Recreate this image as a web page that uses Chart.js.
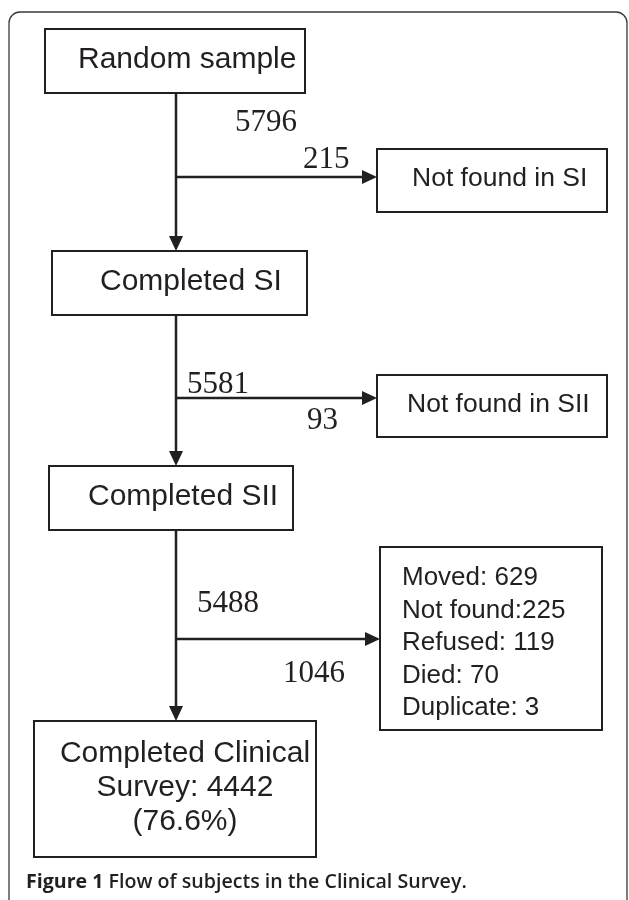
<!DOCTYPE html>
<html>
<head>
<meta charset="utf-8">
<title>Flow of subjects in the Clinical Survey</title>
<script src="https://cdn.jsdelivr.net/npm/chart.js@4.4.1/dist/chart.umd.min.js"></script>
<style>
  html, body { margin: 0; padding: 0; background: #fff; }
  .chart { width: 629px; height: 900px; position: relative; }
</style>
</head>
<body>
<div class="chart">
  <canvas id="flowChart"></canvas>
</div>
<script>
// flow data
const stageLabels = ["Random sample", "Completed SI", "Completed SII", "Completed Clinical"];
const remaining = [5796, 5581, 5488];
const excluded = [215, 93, 1046];
const exclusionLabels = ["Not found in SI", "Not found in SII"];
const lossReasons = ["Moved: ", "Not found:", "Refused: ", "Died: ", "Duplicate: "];
const lossCounts = [629, 225, 119, 70, 3];
const finalCount = 4442;
const finalPct = "76.6%";
const caption = ["Figure 1", " Flow of subjects in the Clinical Survey."];

// layout (in axis units, 1 unit = 1px here)
const stageBoxes = [
  { x0: 45, y0: 29, x1: 305, y1: 93, tx: 78, ty: 68 },
  { x0: 52, y0: 251, x1: 307, y1: 315, tx: 100, ty: 290 },
  { x0: 49, y0: 466, x1: 293, y1: 530, tx: 88, ty: 505 },
  { x0: 34, y0: 721, x1: 316, y1: 857, tx: 185, ty: 762 }
];
const sideBoxes = [
  { x0: 377, y0: 149, x1: 607, y1: 212, tx: 412, ty: 186 },
  { x0: 377, y0: 375, x1: 607, y1: 437, tx: 407, ty: 412 },
  { x0: 380, y0: 547, x1: 602, y1: 730, tx: 402, ty: 585 }
];
const spineX = 176;
const branchY = [177, 398, 639];
const remainingPos = [[235, 131], [187, 393], [197, 612]];
const excludedPos = [[303, 168], [307, 429], [283, 682]];

const INK = "#231f20";
const SANS = "'Liberation Sans', Arial, Helvetica, sans-serif";
const SERIF = "'Liberation Serif', 'Times New Roman', serif";

const flowPlugin = {
  id: "flow",
  afterDraw(chart) {
    const ctx = chart.ctx;
    const px = v => chart.scales.x.getPixelForValue(v);
    const py = v => chart.scales.y.getPixelForValue(v);
    ctx.save();

    // outer frame
    ctx.strokeStyle = "#3a3a3a";
    ctx.lineWidth = 1.3;
    ctx.beginPath();
    ctx.roundRect(px(9), py(12), px(627) - px(9), py(910) - py(12), 11);
    ctx.stroke();

    const box = b => {
      ctx.strokeStyle = INK;
      ctx.lineWidth = 2;
      ctx.strokeRect(px(b.x0), py(b.y0), px(b.x1) - px(b.x0), py(b.y1) - py(b.y0));
    };
    const arrow = (x0, y0, x1, y1) => {
      ctx.strokeStyle = INK;
      ctx.fillStyle = INK;
      ctx.lineWidth = 2.5;
      const ang = Math.atan2(py(y1) - py(y0), px(x1) - px(x0));
      const hl = 15, hw = 7;
      const bx = px(x1) - hl * Math.cos(ang), by = py(y1) - hl * Math.sin(ang);
      ctx.beginPath();
      ctx.moveTo(px(x0), py(y0));
      ctx.lineTo(bx, by);
      ctx.stroke();
      ctx.beginPath();
      ctx.moveTo(px(x1), py(y1));
      ctx.lineTo(bx + hw * Math.sin(ang), by - hw * Math.cos(ang));
      ctx.lineTo(bx - hw * Math.sin(ang), by + hw * Math.cos(ang));
      ctx.closePath();
      ctx.fill();
    };

    // boxes
    stageBoxes.forEach(box);
    sideBoxes.forEach(box);

    // spine arrows between stages
    for (let i = 0; i < stageBoxes.length - 1; i++) {
      arrow(spineX, stageBoxes[i].y1, spineX, stageBoxes[i + 1].y0);
    }
    // branch arrows to exclusions
    branchY.forEach((yv, i) => arrow(spineX, yv, sideBoxes[i].x0, yv));

    // stage labels
    ctx.fillStyle = INK;
    ctx.textBaseline = "alphabetic";
    ctx.font = "30px " + SANS;
    ctx.textAlign = "left";
    for (let i = 0; i < 3; i++) {
      ctx.fillText(stageLabels[i], px(stageBoxes[i].tx), py(stageBoxes[i].ty));
    }
    const fb = stageBoxes[3];
    ctx.textAlign = "center";
    const finalLines = [stageLabels[3], "Survey: " + finalCount, "(" + finalPct + ")"];
    finalLines.forEach((t, i) => ctx.fillText(t, px(fb.tx), py(fb.ty + i * 34)));

    // exclusion labels
    ctx.textAlign = "left";
    ctx.font = "26.5px " + SANS;
    exclusionLabels.forEach((t, i) => ctx.fillText(t, px(sideBoxes[i].tx), py(sideBoxes[i].ty)));
    ctx.font = "26px " + SANS;
    const lb = sideBoxes[2];
    lossReasons.forEach((r, i) => ctx.fillText(r + lossCounts[i], px(lb.tx), py(lb.ty + i * 32.5)));

    // counts
    ctx.font = "31px " + SERIF;
    remaining.forEach((v, i) => ctx.fillText(String(v), px(remainingPos[i][0]), py(remainingPos[i][1])));
    excluded.forEach((v, i) => ctx.fillText(String(v), px(excludedPos[i][0]), py(excludedPos[i][1])));

    // caption, fitted to its width in the figure
    const capFont = (w, s) => w + " " + s + "px 'Open Sans', 'Liberation Sans', sans-serif";
    ctx.font = capFont(700, 100);
    let w = ctx.measureText(caption[0]).width;
    ctx.font = capFont(600, 100);
    w += ctx.measureText(caption[1]).width;
    const size = 100 * 441 / w;
    ctx.font = capFont(700, size);
    ctx.fillText(caption[0], px(26), py(888));
    const w0 = ctx.measureText(caption[0]).width;
    ctx.font = capFont(600, size);
    ctx.fillText(caption[1], px(26) + w0, py(888));

    ctx.restore();
  }
};

new Chart(document.getElementById("flowChart").getContext("2d"), {
  type: "scatter",
  data: { datasets: [{ label: "flow", data: [] }] },
  options: {
    responsive: true,
    maintainAspectRatio: false,
    animation: false,
    layout: { padding: 0 },
    plugins: { legend: { display: false }, tooltip: { enabled: false } },
    scales: {
      x: { type: "linear", min: 0, max: 629, display: false },
      y: { type: "linear", min: 0, max: 900, reverse: true, display: false }
    }
  },
  plugins: [flowPlugin]
});
</script>
</body>
</html>
